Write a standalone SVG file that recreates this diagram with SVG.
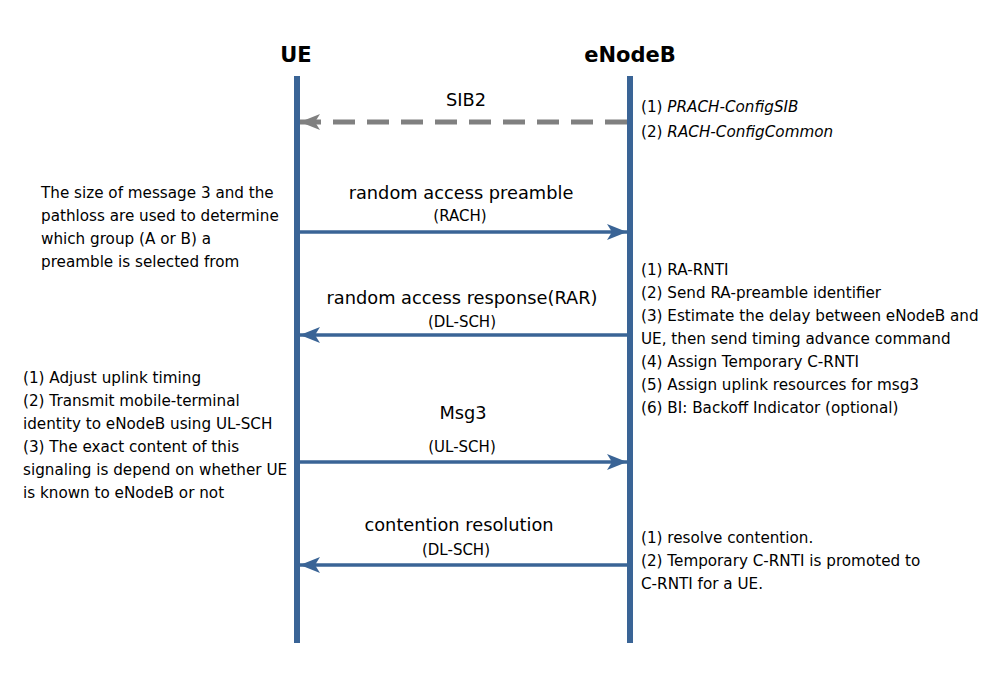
<svg xmlns="http://www.w3.org/2000/svg" width="1000" height="689" viewBox="0 0 1000 689">
<style>
text{font-family:"DejaVu Sans","Open Sans",sans-serif;fill:#000;}
.t{font-size:15.2px;}
.m{font-size:17.8px;text-anchor:middle;}
.s{font-size:15px;text-anchor:middle;}
.h{font-size:21px;font-weight:bold;text-anchor:middle;}
.life{stroke:#3A6496;stroke-width:6;}
.msg{stroke:#3A6496;stroke-width:3.5;fill:none;}
.dash{stroke:#808080;stroke-width:5;stroke-dasharray:22 12;fill:none;}
</style>
<defs>
<marker id="ab" markerUnits="userSpaceOnUse" markerWidth="20" markerHeight="20" viewBox="0 0 20 20" refX="20" refY="10" orient="auto">
<path d="M0,2 L20,10 L0,18 L5,10 Z" fill="#3A6496"/>
</marker>
<marker id="ag" markerUnits="userSpaceOnUse" markerWidth="20" markerHeight="20" viewBox="0 0 20 20" refX="20" refY="10" orient="auto">
<path d="M0,2 L20,10 L0,18 L5,10 Z" fill="#808080"/>
</marker>
</defs>
<rect width="1000" height="689" fill="#fff"/>
<g id="ue">
<text class="h" x="296" y="62">UE</text>
<line class="life" x1="297" y1="76" x2="297" y2="643"/>
</g>
<g id="enodeb">
<text class="h" x="630" y="62">eNodeB</text>
<line class="life" x1="630" y1="76" x2="630" y2="643"/>
</g>
<g id="connectors">
<line class="dash" x1="627" y1="122" x2="300" y2="122" marker-end="url(#ag)"/>
<line class="msg" x1="300" y1="232" x2="627" y2="232" marker-end="url(#ab)"/>
<line class="msg" x1="627" y1="335" x2="300" y2="335" marker-end="url(#ab)"/>
<line class="msg" x1="300" y1="462" x2="627" y2="462" marker-end="url(#ab)"/>
<line class="msg" x1="627" y1="565" x2="300" y2="565" marker-end="url(#ab)"/>
</g>
<g id="labels">
<text class="m" x="466" y="106">SIB2</text>
<text class="m" x="461" y="199">random access preamble</text>
<text class="s" x="460" y="221">(RACH)</text>
<text class="m" x="462" y="304">random access response(RAR)</text>
<text class="s" x="462" y="327">(DL-SCH)</text>
<text class="m" x="463" y="419">Msg3</text>
<text class="s" x="462" y="452">(UL-SCH)</text>
<text class="m" x="459" y="531">contention resolution</text>
<text class="s" x="456" y="555">(DL-SCH)</text>
</g>
<g id="note-sib2">
<text class="t" x="641" y="112">(1) <tspan font-style="italic">PRACH-ConfigSIB</tspan></text>
<text class="t" x="641" y="137">(2) <tspan font-style="italic">RACH-ConfigCommon</tspan></text>
</g>
<g id="note-preamble">
<text class="t" x="41" y="198">The size of message 3 and the</text>
<text class="t" x="41" y="221">pathloss are used to determine</text>
<text class="t" x="41" y="244">which group (A or B) a</text>
<text class="t" x="41" y="267">preamble is selected from</text>
</g>
<g id="note-rar">
<text class="t" x="641" y="275">(1) RA-RNTI</text>
<text class="t" x="641" y="298">(2) Send RA-preamble identifier</text>
<text class="t" x="641" y="321">(3) Estimate the delay between eNodeB and</text>
<text class="t" x="641" y="344">UE, then  send timing advance command</text>
<text class="t" x="641" y="367">(4) Assign Temporary C-RNTI</text>
<text class="t" x="641" y="390">(5) Assign uplink resources for msg3</text>
<text class="t" x="641" y="413">(6) BI: Backoff Indicator (optional)</text>
</g>
<g id="note-msg3">
<text class="t" x="23" y="383">(1) Adjust uplink timing</text>
<text class="t" x="23" y="406">(2) Transmit mobile-terminal</text>
<text class="t" x="23" y="429">identity to eNodeB using UL-SCH</text>
<text class="t" x="23" y="452">(3) The exact content of this</text>
<text class="t" x="23" y="475">signaling is depend on whether UE</text>
<text class="t" x="23" y="498">is known to eNodeB or not</text>
</g>
<g id="note-contention">
<text class="t" x="641" y="543">(1) resolve contention.</text>
<text class="t" x="641" y="566">(2) Temporary C-RNTI is promoted to</text>
<text class="t" x="641" y="589">C-RNTI for a UE.</text>
</g>
</svg>
